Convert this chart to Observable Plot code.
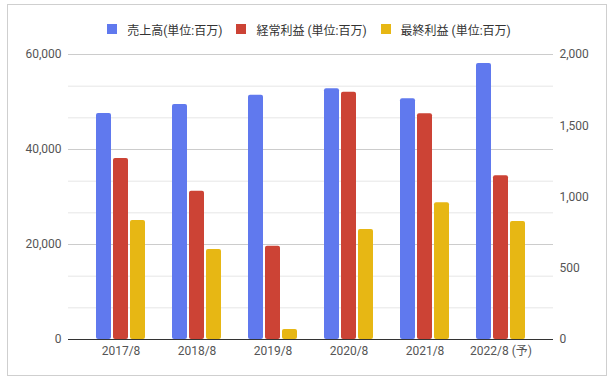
<!DOCTYPE html>
<html>
<head>
<meta charset="utf-8">
<script src="https://cdn.jsdelivr.net/npm/d3@7"></script>
<script src="https://cdn.jsdelivr.net/npm/@observablehq/plot@0.6"></script>
<style>
  html, body { margin: 0; padding: 0; background: #fff; }
  #wrap { position: relative; width: 614px; height: 381px; overflow: hidden;
          font-family: Roboto, "Noto Sans CJK JP", sans-serif; }
  #frame { position: absolute; left: 7px; top: 4px; width: 598px; height: 370px;
           border: 1px solid #cfcfcf; pointer-events: none; }
  #legend { height: 40px; display: flex; justify-content: center; align-items: center;
            padding-left: 4px; box-sizing: border-box; padding-top: 18px; font-size: 12px; color: #333; }
  .item { display: flex; align-items: center; margin: 0 7px; }
  .sw { width: 10px; height: 10px; margin-right: 10px; }
  svg { display: block; }
</style>
</head>
<body>
<div id="wrap">
  <div id="legend"></div>
  <div id="chart"></div>
  <div id="frame"></div>
</div>
<script>
const years = ["2017/8", "2018/8", "2019/8", "2020/8", "2021/8", "2022/8 (予)"];
const sales = [47600, 49500, 51400, 52800, 50700, 58100];      // left axis
const ordinaryProfit = [1270, 1040, 655, 1735, 1585, 1150];     // right axis
const netProfit = [835, 632, 70, 772, 960, 828];                // right axis
const seriesNames = ["売上高(単位:百万)", "経常利益 (単位:百万)", "最終利益 (単位:百万)"];
const colors = ["#6079ee", "#cc4335", "#e7b714"];
const leftTicks = [0, 20000, 40000, 60000];
const rightTicks = [0, 500, 1000, 1500, 2000];
const leftMax = 60000, rightMax = 2000;
const ratio = leftMax / rightMax;

// legend
const lg = document.getElementById("legend");
seriesNames.forEach((n, i) => {
  const it = document.createElement("div"); it.className = "item";
  const sw = document.createElement("div"); sw.className = "sw"; sw.style.background = colors[i];
  const tx = document.createElement("span"); tx.textContent = n;
  it.appendChild(sw); it.appendChild(tx); lg.appendChild(it);
});

const rows = years.map((y, i) => ({
  year: y,
  sales: sales[i],
  ord: ordinaryProfit[i] * ratio,
  net: netProfit[i] * ratio
}));
const minorGrid = d3.range(0, leftMax + 1, leftMax / 9).filter(v => !leftTicks.some(t => Math.abs(t - v) < 1));

const chart = Plot.plot({
  width: 614,
  height: 341,
  marginTop: 14,
  marginBottom: 42,
  marginLeft: 68,
  marginRight: 61,
  style: { fontFamily: "Roboto, 'Noto Sans CJK JP', sans-serif", fontSize: "12px", color: "#555", background: "transparent" },
  x: { domain: years, paddingInner: 0.804, paddingOuter: 0.567, label: null },
  y: { domain: [0, leftMax], label: null },
  marks: [
    Plot.ruleY(minorGrid, { stroke: "#e6e6e6", strokeWidth: 1 }),
    Plot.ruleY(leftTicks.filter(t => t > 0), { stroke: "#cccccc", strokeWidth: 1 }),
    Plot.barY(rows, { x: "year", y: "sales", fill: colors[0], dx: -17, rx: 2 }),
    Plot.barY(rows, { x: "year", y: "ord", fill: colors[1], dx: 0, rx: 2 }),
    Plot.barY(rows, { x: "year", y: "net", fill: colors[2], dx: 17, rx: 2 }),
    Plot.ruleY([0], { stroke: "#333", strokeWidth: 1 }),
    Plot.axisX({ tickSize: 0, tickPadding: 7, fill: "#555", fontSize: 12, label: null }),
    Plot.axisY({ anchor: "left", ticks: leftTicks, tickSize: 0, tickPadding: 7, fill: "#555", fontSize: 12,
                 tickFormat: d3.format(","), label: null }),
    Plot.axisY({ anchor: "right", ticks: rightTicks.map(v => v * ratio), tickSize: 0, tickPadding: 6, fill: "#555", fontSize: 12,
                 tickFormat: d => d3.format(",")(Math.round(d / ratio)), label: null })
  ]
});
document.getElementById("chart").appendChild(chart);
</script>
</body>
</html>
